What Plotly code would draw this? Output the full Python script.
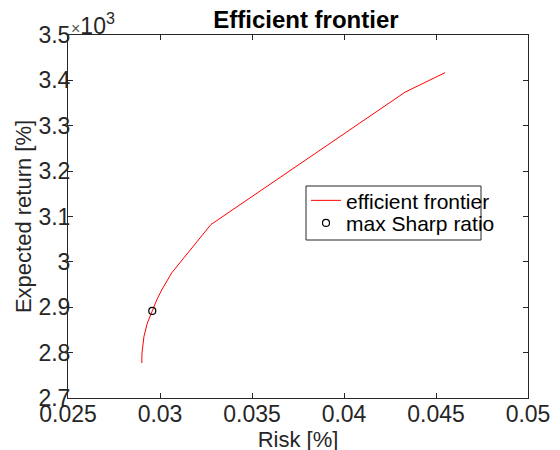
import plotly.graph_objects as go

# Data; returns shown with a ×10³ exponent label
risk = [0.02901, 0.02902, 0.02913, 0.02931, 0.02958, 0.02982, 0.03009, 0.03064, 0.03276, 0.04332, 0.04549]
ret = [2.777, 2.799, 2.836, 2.865, 2.892, 2.916, 2.938, 2.976, 3.082, 3.374, 3.417]
max_sharp_risk = [0.02958]
max_sharp_ret = [2.892]

x_ticks = [0.025, 0.03, 0.035, 0.04, 0.045, 0.05]
x_ticklabels = ["0.025", "0.03", "0.035", "0.04", "0.045", "0.05"]
y_ticks = [2.7, 2.8, 2.9, 3.0, 3.1, 3.2, 3.3, 3.4, 3.5]
y_ticklabels = ["2.7", "2.8", "2.9", "3", "3.1", "3.2", "3.3", "3.4", "3.5"]

FONT = "Liberation Sans, Arial, sans-serif"
AX = "#262626"

fig = go.Figure()
fig.add_trace(go.Scatter(x=risk, y=ret, mode="lines", name="efficient frontier",
                         line=dict(color="#ff0000", width=1), legend="legend"))
fig.add_trace(go.Scatter(x=max_sharp_risk, y=max_sharp_ret, mode="markers", name="max Sharp ratio",
                         marker=dict(symbol="circle-open", size=7, color="black", line=dict(width=1.2)),
                         legend="legend2"))

axis_common = dict(showgrid=False, zeroline=False, showline=True, linecolor=AX, linewidth=1,
                   mirror="ticks", ticks="inside", ticklen=5, tickcolor=AX, tickwidth=1,
                   automargin=False,
                   tickfont=dict(family=FONT, size=23, color=AX))

leg_common = dict(xanchor="left", yanchor="middle", bgcolor="rgba(255,255,255,0)", borderwidth=0,
                  font=dict(family=FONT, size=21, color="black"))

fig.update_layout(
    width=560, height=450,
    margin=dict(l=60, r=40, t=27, b=60),
    paper_bgcolor="white", plot_bgcolor="white",
    title=dict(text="<b>Efficient frontier</b>", x=0.532, xanchor="center", y=0.974, yanchor="middle",
               font=dict(family=FONT, size=24, color="black")),
    xaxis=dict(range=[0.025, 0.05], tickvals=x_ticks, ticktext=x_ticklabels,
               title=dict(text="Risk [%]", font=dict(family=FONT, size=22, color=AX), standoff=0),
               ticklabelstandoff=-5,
               **axis_common),
    yaxis=dict(range=[2.7, 3.5], tickvals=y_ticks, ticktext=y_ticklabels,
               title=dict(text="Expected return [%]", font=dict(family=FONT, size=22, color=AX), standoff=0),
               ticklabelstandoff=-8,
               **axis_common),
    legend=dict(x=(306 - 68) / 460, y=(398 - 200.7) / 363, **leg_common),
    legend2=dict(x=(306 - 68) / 460, y=(398 - 223.3) / 363, **leg_common),
    showlegend=True,
)

# legend box as drawn in the reference
fig.add_shape(type="rect", xref="paper", yref="paper",
              x0=(306 - 68) / 460, x1=(481 - 68) / 460,
              y0=(398 - 240) / 363, y1=(398 - 186) / 363,
              line=dict(color=AX, width=1), fillcolor="rgba(0,0,0,0)", layer="above")

# exponent label
fig.add_annotation(text="<span style='font-size:16px;color:#555555'>×</span>10<sup>3</sup>",
                   xref="paper", yref="paper", x=0.0, y=1.0,
                   xanchor="left", yanchor="bottom", showarrow=False, xshift=1, yshift=-6,
                   font=dict(family=FONT, size=23, color=AX))

fig.write_html("out.html")
